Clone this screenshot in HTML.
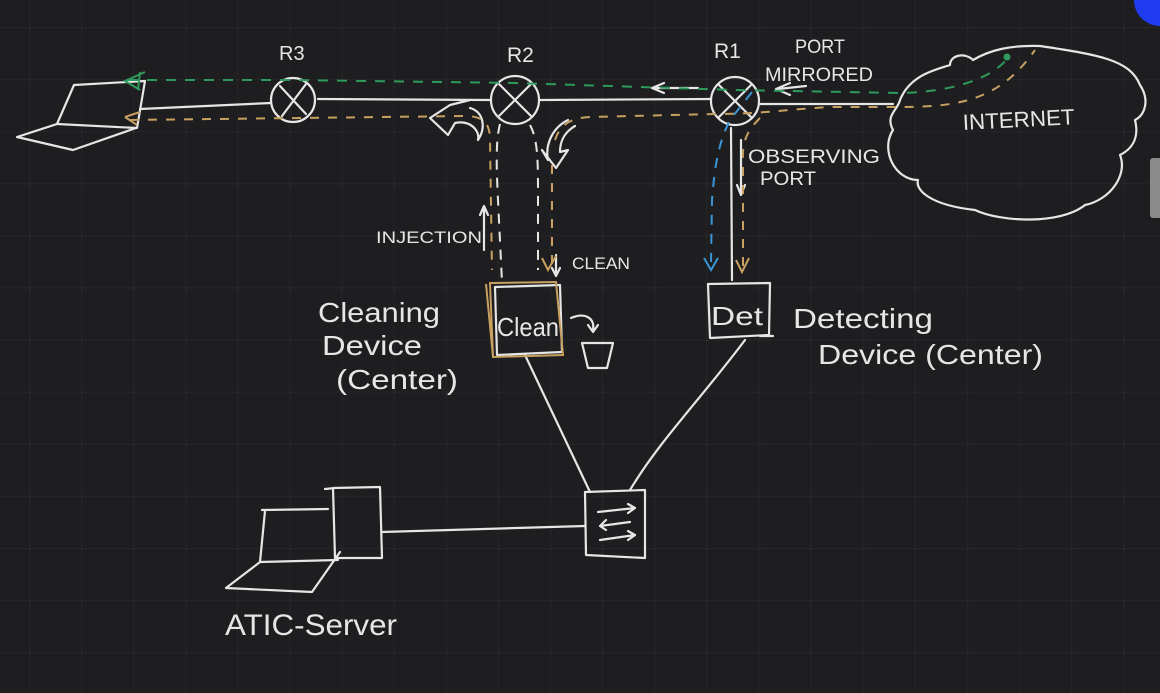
<!DOCTYPE html>
<html><head><meta charset="utf-8"><style>
html,body{margin:0;padding:0;background:#1e1e20;width:1160px;height:693px;overflow:hidden}
svg{display:block}
text{font-family:"Liberation Sans",sans-serif;fill:#e6e6e6}
</style></head><body>
<svg width="1160" height="693" viewBox="0 0 1160 693" xmlns="http://www.w3.org/2000/svg">
<defs>
<pattern id="g" x="29" y="27" width="52.1" height="52.1" patternUnits="userSpaceOnUse">
<path d="M0 0H52.1M0 0V52.1" stroke="#28282b" stroke-width="1.5" fill="none"/>
<circle cx="0" cy="0" r="2" fill="#2e2e31"/>
</pattern>
</defs>
<rect width="1160" height="693" fill="#1e1e20"/>
<rect width="1160" height="693" fill="url(#g)"/>
<circle cx="1160" cy="0" r="26" fill="#1f3cf0"/>
<rect x="1150" y="158" width="12" height="60" rx="3" fill="#8a8a8a"/>

<g fill="none" stroke="#e6e6e6" stroke-width="2.2" stroke-linecap="round" stroke-linejoin="round">
<path d="M74 85 L145 81 L137 128 L57 124 Z"/>
<path d="M57 124 L17 137 L73 150 L136 128"/>
<path d="M140 109 L271 103"/>
<circle cx="293" cy="100" r="22"/>
<path d="M280 86 L306 114 M306 84 L282 116"/>
<path d="M318 99 L491 100"/>
<circle cx="515" cy="100" r="24"/>
<path d="M499 84 L531 116 M531 84 L499 116"/>
<path d="M540 100 L711 99"/>
<circle cx="735" cy="101" r="24"/>
<path d="M719 85 L751 117 M751 85 L719 117"/>
<path d="M760 104 L893 104"/>
<path d="M698 88 L652 88 M664 83 L652 88 L664 93"/>
<path d="M806 86 L778 89 M790 83 L776 89 L790 95"/>
<path d="M470 100 L450 105 L430 118 L448 135 L455 123 C470 120 480 130 478 140 C486 128 484 112 470 108"/>
<path d="M568 120 C552 128 545 145 548 160 L542 150 L556 168 L568 150 L560 152 C560 140 565 132 575 126"/>
<path d="M731 128 L732 280"/>
<path d="M741 140 L741 195 M737 185 L741 195 L745 185"/>
<path d="M495 287 L560 285 L562 352 L497 355 Z"/>
<path d="M708 284 L770 283 L769 335 L710 338 Z M760 336 L773 336"/>
<path d="M582 343 L613 343 L607 368 L588 368 Z"/>
<path d="M571 318 C585 312 595 318 593 330 M588 325 L593 332 L598 325"/>
<path d="M484 250 L484 208 M480 215 L484 206 L488 215"/>
<path d="M556 255 L556 275 M552 268 L556 276 L560 268"/>
<path d="M525 355 L590 492"/>
<path d="M745 340 C700 400 660 440 630 490"/>
<path d="M585 492 L645 490 L645 558 L586 555 Z"/>
<path d="M598 512 L635 508 M628 504 L635 508 L628 513 M630 522 L600 526 M606 520 L600 526 L606 530 M600 540 L635 535 M628 531 L635 535 L628 540"/>
<path d="M333 488 L380 487 L382 558 L335 558 Z M325 489 L335 488"/>
<path d="M262 510 L328 509 M265 511 L260 562 L338 560"/>
<path d="M260 562 L226 588 L312 592 L340 552"/>
<path d="M382 532 L585 526"/>
<path d="M1040 46 C1100 55 1130 60 1140 85 C1150 100 1145 115 1135 120 C1140 140 1130 150 1120 155 C1128 175 1110 200 1085 205 C1060 225 1000 222 975 210 C930 205 915 190 918 180 C895 180 880 150 893 130 C885 115 898 110 900 100 C910 75 935 70 950 65 C950 55 965 52 973 60 C990 50 1010 45 1040 46"/>
</g>
<g fill="none" stroke="#2e9a5c" stroke-width="2" stroke-dasharray="10 9">
<path d="M128 80 L290 80 L515 83 L735 90 L900 93 C950 92 990 80 1008 58"/>
</g>
<path d="M145 72 L125 81 L140 90 M140 72 L138 90" stroke="#2e9a5c" stroke-width="2" fill="none"/>
<circle cx="1007" cy="57" r="3.5" fill="#2e9a5c"/>
<g fill="none" stroke="#c8a060" stroke-width="2" stroke-dasharray="9 9">
<path d="M130 120 L300 118 L465 116 C485 116 490 125 490 140 L492 270"/>
<path d="M555 140 C560 125 570 118 590 117 L715 114 C760 114 780 110 830 107 L900 107 C960 107 1000 100 1035 50"/>
<path d="M552 165 L552 265"/>
<path d="M760 118 C748 130 742 140 743 160 L743 275"/>
</g>
<path d="M125 117 L140 112 M125 117 L137 125" stroke="#c8a060" stroke-width="2"/>
<path d="M542 258 L548 270 L556 256" stroke="#c8a060" stroke-width="2" fill="none"/>
<path d="M736 260 L742 272 L749 258" stroke="#c8a060" stroke-width="2" fill="none"/>
<path d="M490 283 L556 282 L563 355 L493 357 Z M486 284 L493 357" stroke="#c8a060" stroke-width="2" fill="none"/>
<g fill="none" stroke="#e6e6e6" stroke-width="2" stroke-dasharray="10 8">
<path d="M500 124 C496 140 496 160 498 200 L502 282"/>
<path d="M530 125 C538 140 538 160 538 200 L538 270"/>
</g>
<g fill="none" stroke="#3a96d8" stroke-width="2" stroke-dasharray="10 9">
<path d="M752 92 L730 120 C720 140 715 160 712 200 L711 262"/>
</g>
<path d="M704 258 L711 270 L718 258" stroke="#3a96d8" stroke-width="2" fill="none"/>

<text x="279" y="60" font-size="20">R3</text>
<text x="507" y="62" font-size="21">R2</text>
<text x="714" y="58" font-size="21">R1</text>
<text x="795" y="53" font-size="19" textLength="50" lengthAdjust="spacingAndGlyphs">PORT</text>
<text x="765" y="81" font-size="19" textLength="108" lengthAdjust="spacingAndGlyphs">MIRRORED</text>
<text x="963" y="130" font-size="22" transform="rotate(-3 963 128)" textLength="112" lengthAdjust="spacingAndGlyphs">INTERNET</text>
<text x="748" y="163" font-size="19" textLength="132" lengthAdjust="spacingAndGlyphs">OBSERVING</text>
<text x="760" y="185" font-size="19" textLength="56" lengthAdjust="spacingAndGlyphs">PORT</text>
<text x="376" y="243" font-size="17" textLength="106" lengthAdjust="spacingAndGlyphs">INJECTION</text>
<text x="572" y="269" font-size="17" textLength="58" lengthAdjust="spacingAndGlyphs">CLEAN</text>
<text x="497" y="336" font-size="26" textLength="62" lengthAdjust="spacingAndGlyphs">Clean</text>
<text x="711" y="325" font-size="26" textLength="52" lengthAdjust="spacingAndGlyphs">Det</text>
<text x="318" y="322" font-size="28" textLength="122" lengthAdjust="spacingAndGlyphs">Cleaning</text>
<text x="322" y="355" font-size="28" textLength="100" lengthAdjust="spacingAndGlyphs">Device</text>
<text x="336" y="389" font-size="28" textLength="122" lengthAdjust="spacingAndGlyphs">(Center)</text>
<text x="793" y="328" font-size="28" textLength="140" lengthAdjust="spacingAndGlyphs">Detecting</text>
<text x="818" y="364" font-size="28" textLength="225" lengthAdjust="spacingAndGlyphs">Device (Center)</text>
<text x="225" y="635" font-size="30" textLength="172" lengthAdjust="spacingAndGlyphs">ATIC-Server</text>
</svg>
</body></html>
